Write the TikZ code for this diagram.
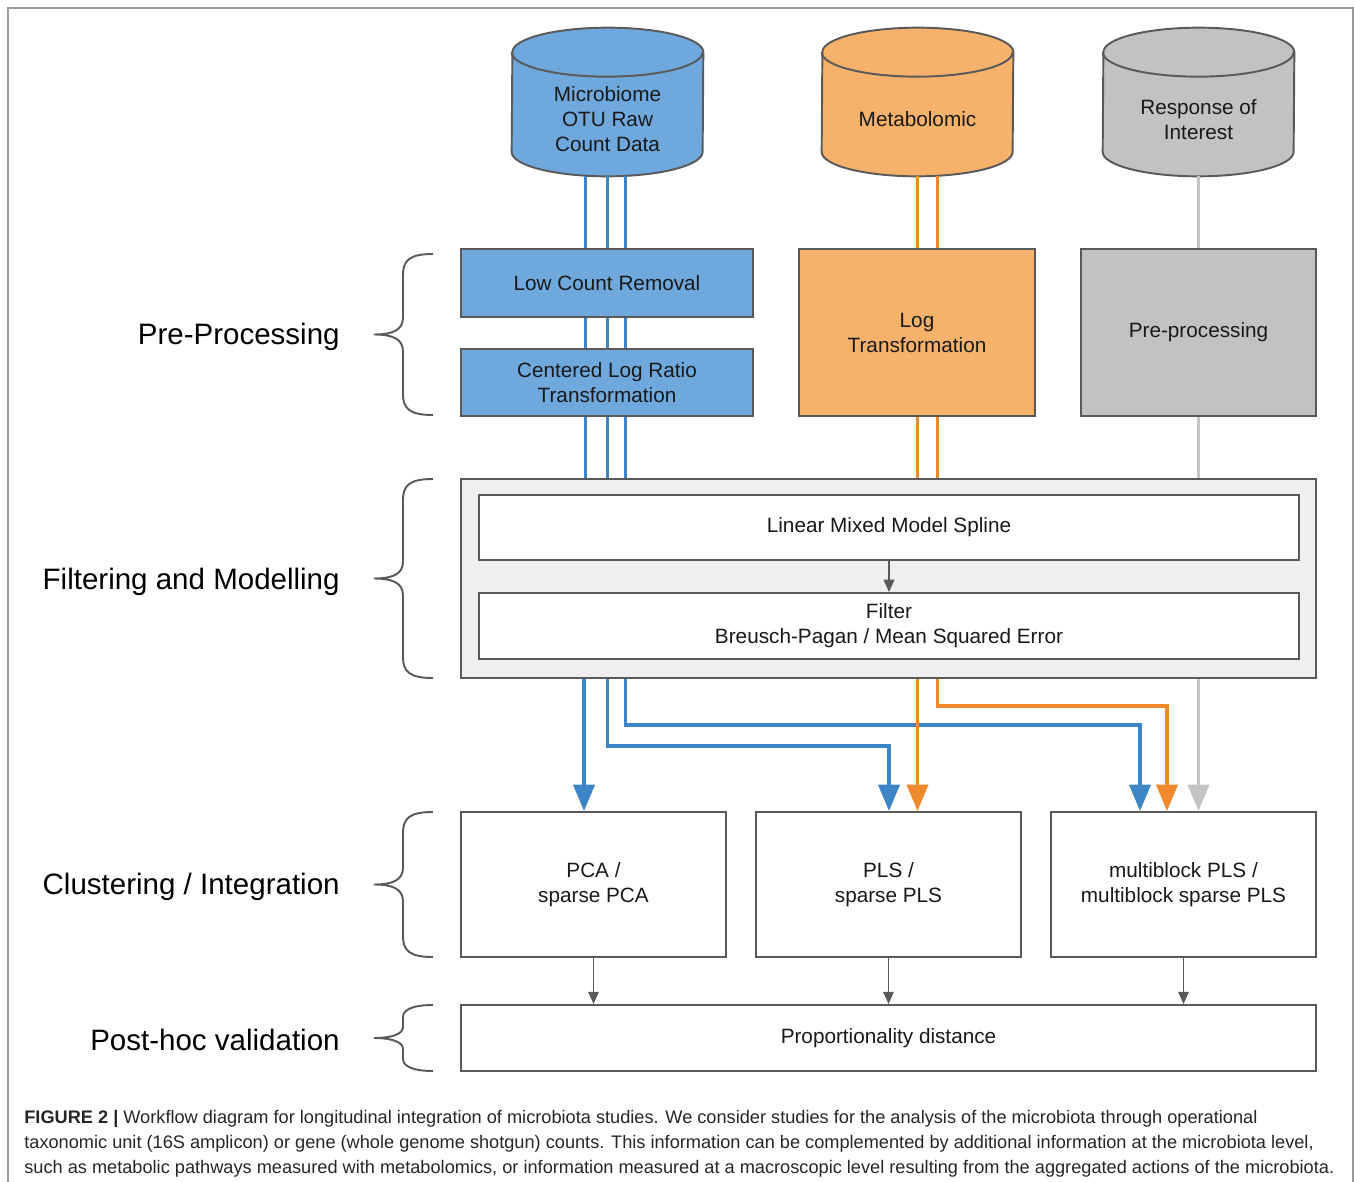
\documentclass[tikz,border=0pt]{standalone}
\usepackage{fontspec}
\setmainfont{Liberation Sans}
\usetikzlibrary{positioning, arrows.meta, backgrounds}

\definecolor{micfill}{HTML}{6FA8DC}
\definecolor{metfill}{HTML}{F6B26B}
\definecolor{resfill}{HTML}{C2C2C2}
\definecolor{micline}{HTML}{3D85C6}
\definecolor{metline}{HTML}{F1892D}
\definecolor{resline}{HTML}{C4C4C4}
\definecolor{edgegrey}{HTML}{595959}
\definecolor{panelgrey}{HTML}{EFEFEF}
\definecolor{framegrey}{HTML}{9A9A9A}

\begin{document}
\begin{tikzpicture}[x=0.02cm, y=-0.02cm,
    every node/.style={font=\fontsize{11.8}{14.2}\selectfont, text=black!90, align=center},
    box/.style={rectangle, draw=edgegrey, line width=1.1pt, inner sep=0pt},
    db/.style={rectangle, inner sep=0pt, minimum width=3.82cm, minimum height=2.26cm},
    dbedge/.style={draw=edgegrey, line width=1.1pt, line join=round},
    stage/.style={font=\fontsize{16.8}{20}\selectfont, text=black, anchor=east, inner sep=0pt},
    flow/.style={line width=2pt},
    bigtip/.style={-{Triangle[length=15pt, width=12pt]}},
    smallarrow/.style={draw=edgegrey, line width=0.9pt, -{Triangle[length=7pt, width=6pt]}}
]
    \useasboundingbox (0,0) rectangle (1355,1182);
    \draw[framegrey, line width=1.1pt] (8,1182) -- (8,8) -- (1353,8) -- (1353,1182);

    % data sources
    \node[db] (micro) at (607.5,119.5) {Microbiome\\OTU Raw\\Count Data};
    \node[db] (metab) at (917.5,119.5) {Metabolomic};
    \node[db] (resp) at (1198.5,119.5) {Response of\\Interest};
    \begin{scope}[on background layer]
    \foreach \n/\c in {micro/micfill, metab/metfill, resp/resfill} {
        \filldraw[dbedge, fill=\c] ([yshift=0.49cm]\n.south west)
            arc[start angle=180, end angle=360, x radius=1.91cm, y radius=0.49cm]
            -- ([yshift=0.21cm]\n.north east)
            arc[start angle=0, end angle=180, x radius=1.91cm, y radius=0.49cm] -- cycle;
        \draw[dbedge] ([yshift=0.21cm]\n.north west)
            arc[start angle=180, end angle=360, x radius=1.91cm, y radius=0.49cm];
    }
    \end{scope}

    % pre-processing
    \node[box, fill=micfill, minimum width=5.84cm, minimum height=1.36cm] (lcr) at (607,283) {Low Count Removal};
    \node[box, fill=micfill, minimum width=5.84cm, minimum height=1.34cm] (clr) at (607,382.5) {Centered Log Ratio\\Transformation};
    \node[box, fill=metfill, minimum width=4.72cm, minimum height=3.34cm] (logt) at (917,332.5) {Log\\Transformation};
    \node[box, fill=resfill, minimum width=4.7cm, minimum height=3.34cm] (prep) at (1198.5,332.5) {Pre-processing};

    % filtering and modelling
    \node[box, fill=panelgrey, minimum width=17.1cm, minimum height=3.98cm] (fm) at (888.5,578.5) {};
    \node[box, fill=white, minimum width=16.4cm, minimum height=1.3cm] (lmms) at (889,527.5) {Linear Mixed Model Spline};
    \node[box, fill=white, minimum width=16.4cm, minimum height=1.32cm] (filt) at (889,626) {Filter\\Breusch-Pagan / Mean Squared Error};
    \draw[smallarrow] (lmms) -- (filt);

    % clustering and validation
    \node[box, minimum width=5.3cm, minimum height=2.9cm] (pca) at (593.5,884.5) {PCA /\\sparse PCA};
    \node[box, minimum width=5.3cm, minimum height=2.9cm] (pls) at (888.5,884.5) {PLS /\\sparse PLS};
    \node[box, minimum width=5.3cm, minimum height=2.9cm] (mb) at (1183.5,884.5) {multiblock PLS /\\multiblock sparse PLS};
    \node[box, minimum width=17.1cm, minimum height=1.32cm] (prop) at (888.5,1038) {Proportionality distance};
    \foreach \b in {pca, pls, mb}
        \draw[smallarrow] (\b.south) -- (\b.south |- prop.north);

    % feeds into the pipeline
    \foreach \x in {585.5, 607.5, 625.5} {
        \draw[flow, micline] (\x,0 |- micro.south) -- (\x,0 |- lcr.north);
        \draw[flow, micline] (\x,0 |- lcr.south) -- (\x,0 |- clr.north);
        \draw[flow, micline] (\x,0 |- clr.south) -- (\x,0 |- fm.north);
    }
    \foreach \x in {917.5, 937.5} {
        \draw[flow, metline] (\x,0 |- metab.south) -- (\x,0 |- logt.north);
        \draw[flow, metline] (\x,0 |- logt.south) -- (\x,0 |- fm.north);
    }
    \draw[flow, resline] (resp.south) -- (prep.north);
    \draw[flow, resline] (prep.south) -- (1198.5,0 |- fm.north);

    % out of the filter
    \draw[flow, micline, bigtip] (584,0 |- fm.south) -- (584,0 |- pca.north);
    \draw[flow, micline, bigtip] (607.5,0 |- fm.south) |- (889,746) -- (889,0 |- pls.north);
    \draw[flow, micline, bigtip] (625.5,0 |- fm.south) |- (1140,725) -- (1140,0 |- mb.north);
    \draw[flow, metline, bigtip] (917.5,0 |- fm.south) -- (917.5,0 |- pls.north);
    \draw[flow, metline, bigtip] (937.5,0 |- fm.south) |- (1167,706) -- (1167,0 |- mb.north);
    \draw[flow, resline, bigtip] (1198.5,0 |- fm.south) -- (1198.5,0 |- mb.north);

    % stages
    \node[stage] (pre) at (340,337) {Pre-Processing};
    \node[stage] (fil) at (340,582) {Filtering and Modelling};
    \node[stage] (clu) at (340,887) {Clustering / Integration};
    \node[stage] (pos) at (340,1040) {Post-hoc validation};
    \foreach \t/\b/\r/\s in {254/415/21/17, 479/678/21/17, 812/957/21/17, 1005/1071/12/11}
        \draw[edgegrey, line width=1.1pt] (433,\t) .. controls (410,\t) and (403,\t+6) .. (403,\t+\r)
            -- (403,{(\t+\b)/2-\s}) .. controls (403,{(\t+\b)/2-4}) and (392,{(\t+\b)/2}) .. (374,{(\t+\b)/2})
            .. controls (392,{(\t+\b)/2}) and (403,{(\t+\b)/2+4}) .. (403,{(\t+\b)/2+\s})
            -- (403,\b-\r) .. controls (403,\b-6) and (410,\b) .. (433,\b);

    % caption
    \node[anchor=north west, align=left, inner sep=0pt, text=black!85, font=\fontsize{10.35}{14.2}\selectfont] (cap) at (24,1110)
        {\textbf{FIGURE 2 |} Workflow diagram for longitudinal integration of microbiota studies. We consider studies for the analysis of the microbiota through operational\\
        taxonomic unit (16S amplicon) or gene (whole genome shotgun) counts. This information can be complemented by additional information at the microbiota level,\\
        such as metabolic pathways measured with metabolomics, or information measured at a macroscopic level resulting from the aggregated actions of the microbiota.};
\end{tikzpicture}
\end{document}
